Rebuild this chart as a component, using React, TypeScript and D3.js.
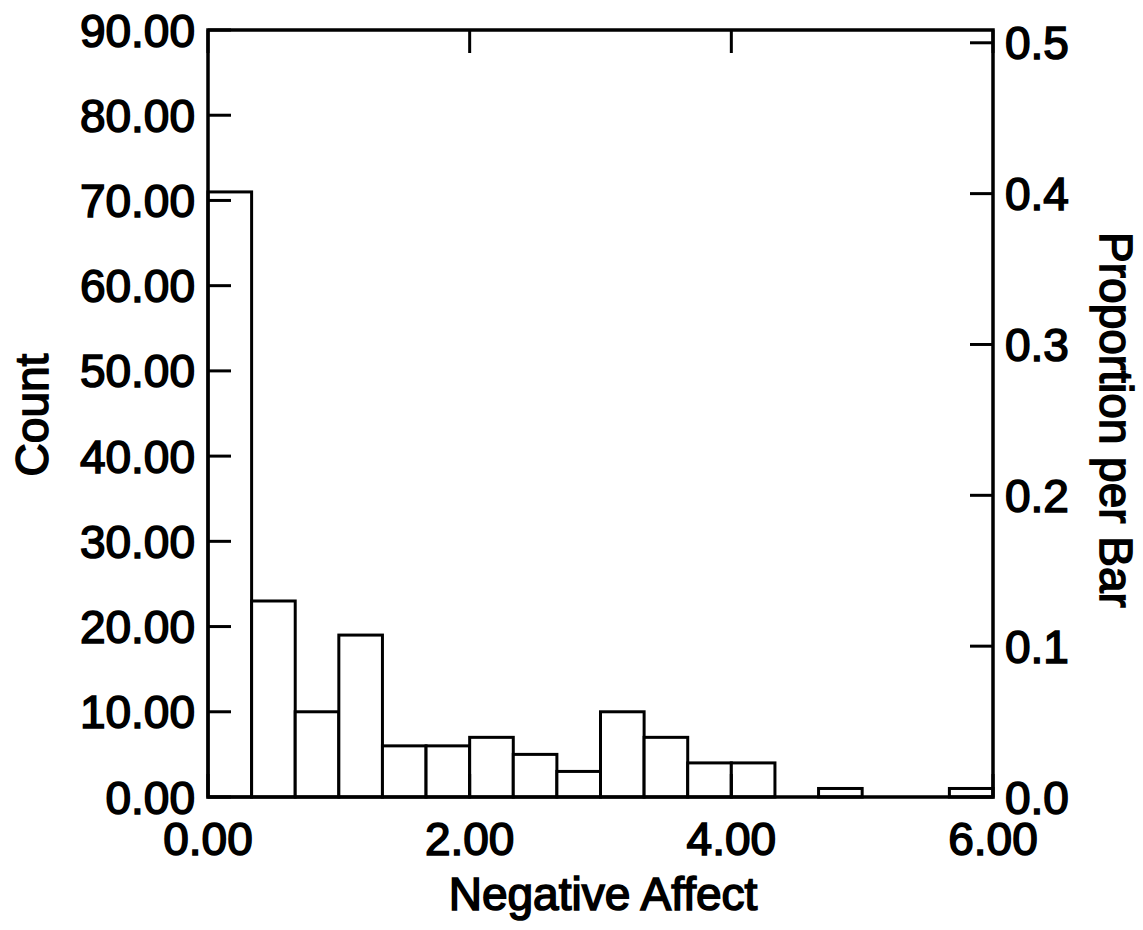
import React from "react";
import * as d3 from "d3";

const binEdges = [0, 1/3, 2/3, 1, 4/3, 5/3, 2, 7/3, 8/3, 3, 10/3, 11/3, 4, 13/3, 14/3, 5, 16/3, 17/3, 6];
const counts = [71, 23, 10, 19, 6, 6, 7, 5, 3, 10, 7, 4, 4, 0, 1, 0, 0, 1];
const countTicks = [0, 10, 20, 30, 40, 50, 60, 70, 80, 90];
const propTicks = [0, 0.1, 0.2, 0.3, 0.4, 0.5];
const xTicks = [0, 2, 4, 6];
const totalN = counts.reduce((a, b) => a + b, 0);

const W = 1143, H = 930;
const M = { left: 208, right: 993, top: 30, bottom: 797 };
const FONT = "'Liberation Sans', Arial, Helvetica, sans-serif";
const FS = 46;
const TICK = 23;

export default function App() {
  const x = d3.scaleLinear().domain([0, 6]).range([M.left, M.right]);
  const y = d3.scaleLinear().domain([0, 90]).range([M.bottom, M.top]);
  const yR = d3.scaleLinear().domain([0, 90 / totalN]).range([M.bottom, M.top]);

  const textStyle = { fontFamily: FONT, fontSize: FS, fill: "#000", stroke: "#000", strokeWidth: 1.6 } as any;

  return (
    <svg width={W} height={H} style={{ position: "absolute", left: 0, top: 0, background: "#fff" }}>
      <rect x={0} y={0} width={W} height={H} fill="#fff" />
      {counts.map((c, i) =>
        c > 0 ? (
          <rect
            key={i}
            x={x(binEdges[i])}
            y={y(c)}
            width={x(binEdges[i + 1]) - x(binEdges[i])}
            height={y(0) - y(c)}
            fill="#fff"
            stroke="#000"
            strokeWidth={3}
          />
        ) : null
      )}
      <rect x={M.left} y={M.top} width={M.right - M.left} height={M.bottom - M.top} fill="none" stroke="#000" strokeWidth={3.5} />
      {countTicks.map((t) => (
        <g key={"l" + t}>
          <line x1={M.left} x2={M.left + TICK} y1={y(t)} y2={y(t)} stroke="#000" strokeWidth={3} />
          <text x={M.left - 13} y={y(t) + 16.5} textAnchor="end" style={textStyle}>
            {d3.format(".2f")(t)}
          </text>
        </g>
      ))}
      {propTicks.map((t) => (
        <g key={"r" + t}>
          <line x1={M.right - TICK} x2={M.right} y1={yR(t)} y2={yR(t)} stroke="#000" strokeWidth={3} />
          <text x={M.right + 12} y={yR(t) + 16.5} textAnchor="start" style={textStyle}>
            {d3.format(".1f")(t)}
          </text>
        </g>
      ))}
      {xTicks.map((t) => (
        <g key={"x" + t}>
          <line x1={x(t)} x2={x(t)} y1={M.top} y2={M.top + TICK} stroke="#000" strokeWidth={3} />
          <line x1={x(t)} x2={x(t)} y1={M.bottom} y2={M.bottom - TICK} stroke="#000" strokeWidth={3} />
          <text x={x(t)} y={855} textAnchor="middle" style={textStyle}>
            {d3.format(".2f")(t)}
          </text>
        </g>
      ))}
      <text x={603} y={910} textAnchor="middle" style={textStyle}>Negative Affect</text>
      <text transform="translate(48,415) rotate(-90)" textAnchor="middle" style={textStyle}>Count</text>
      <text transform="translate(1100,420) rotate(90)" textAnchor="middle" style={textStyle}>Proportion per Bar</text>
    </svg>
  );
}
